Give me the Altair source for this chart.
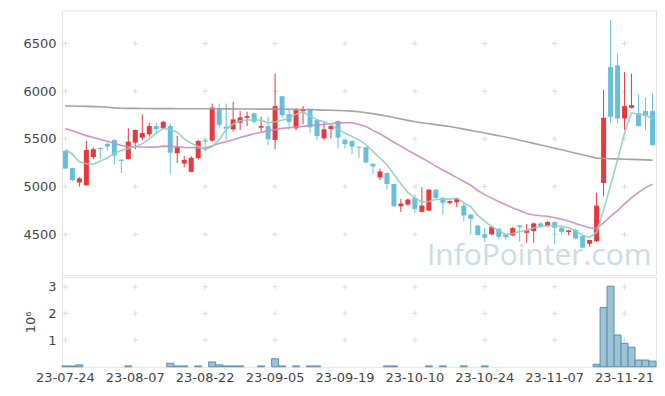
import altair as alt
import pandas as pd

dates = ["23-07-24","23-07-25","23-07-26","23-07-27","23-07-28","23-07-31",
         "23-08-01","23-08-02","23-08-03","23-08-04","23-08-07","23-08-08","23-08-09","23-08-10","23-08-11",
         "23-08-14","23-08-16","23-08-17","23-08-18","23-08-21","23-08-22","23-08-23","23-08-24","23-08-25",
         "23-08-28","23-08-29","23-08-30","23-08-31","23-09-01","23-09-04","23-09-05","23-09-06","23-09-07",
         "23-09-08","23-09-11","23-09-12","23-09-13","23-09-14","23-09-15","23-09-18","23-09-19","23-09-20",
         "23-09-21","23-09-22","23-09-25","23-09-26","23-09-27","23-10-04","23-10-05","23-10-06","23-10-10",
         "23-10-11","23-10-12","23-10-13","23-10-16","23-10-17","23-10-18","23-10-19","23-10-20","23-10-23",
         "23-10-24","23-10-25","23-10-26","23-10-27","23-10-30","23-10-31","23-11-01","23-11-02","23-11-03",
         "23-11-06","23-11-07","23-11-08","23-11-09","23-11-10","23-11-13","23-11-14","23-11-15","23-11-16",
         "23-11-17","23-11-20","23-11-21","23-11-22","23-11-23","23-11-24","23-11-27"]

opens = [5375,5195,5045,5015,5310,5405,5448,5490,5283,5290,5462,5513,5549,5635,5611,
         5635,5351,5243,5156,5299,5484,5482,5809,5628,5601,5670,5722,5768,5618,5635,
         5490,5948,5760,5611,5792,5809,5698,5507,5604,5688,5490,5479,5420,5414,5240,
         5097,5143,5028,4795,4813,4882,4736,4750,4969,4882,4830,4837,4802,4708,4594,
         4500,4500,4559,4500,4490,4594,4517,4535,4615,4587,4629,4570,4525,4545,4483,
         4403,4430,5039,6253,6271,5715,5826,5768,5792,5792]
highs = [5380,5200,5100,5480,5410,5412,5462,5495,5285,5611,5600,5757,5670,5670,5690,
         5664,5534,5323,5320,5490,5507,5872,5872,5872,5889,5792,5785,5775,5733,5733,
         6184,5950,5820,5820,5844,5815,5710,5680,5645,5698,5495,5485,5420,5420,5245,
         5190,5150,5030,4872,4875,4917,4993,4975,4975,4890,4855,4882,4833,4715,4600,
         4570,4590,4565,4505,4580,4600,4611,4625,4630,4640,4635,4575,4548,4560,4490,
         4445,4935,6018,6747,6399,6201,6184,5966,5934,5976]
lows = [5185,5060,5000,5010,5290,5290,5378,5232,5143,5285,5393,5486,5524,5560,5600,
        5135,5247,5205,5150,5285,5368,5470,5611,5490,5576,5594,5635,5660,5576,5437,
        5393,5720,5594,5590,5653,5566,5490,5490,5504,5403,5400,5341,5299,5250,5135,
        5070,4969,4790,4736,4800,4726,4730,4745,4870,4708,4812,4788,4639,4500,4490,
        4420,4490,4450,4445,4480,4420,4413,4413,4570,4580,4400,4490,4490,4455,4355,
        4372,4420,4899,5664,5664,5594,5820,5630,5594,5430]
closes = [5190,5070,5087,5385,5393,5395,5420,5326,5270,5472,5594,5562,5635,5604,5680,
          5357,5414,5281,5302,5479,5472,5830,5649,5607,5705,5726,5740,5680,5635,5497,
          5844,5750,5680,5802,5812,5622,5531,5601,5635,5514,5445,5420,5410,5253,5212,
          5160,5028,4795,4823,4865,4767,4802,4969,4882,4830,4849,4872,4698,4663,4493,
          4465,4580,4476,4472,4566,4576,4545,4615,4587,4629,4570,4525,4542,4458,4361,
          4441,4802,5722,5732,5715,5844,5854,5635,5740,5437]

ma5 = [5390,5340,5260,5240,5236,5270,5300,5350,5380,5400,5420,5450,5500,5560,5610,
       5600,5570,5500,5455,5420,5385,5420,5490,5600,5655,5690,5698,5698,5698,5670,
       5680,5695,5720,5760,5785,5740,5700,5680,5650,5600,5560,5525,5490,5440,5370,
       5300,5230,5130,5030,4940,4880,4840,4845,4865,4870,4870,4880,4830,4790,4700,
       4640,4580,4540,4500,4510,4530,4540,4570,4580,4590,4590,4585,4570,4540,4490,
       4470,4520,4757,5012,5282,5563,5773,5756,5758,5702]
ma20 = [5610,5585,5560,5535,5515,5495,5475,5455,5432,5420,5418,5416,5414,5414,5425,
        5422,5418,5412,5410,5406,5405,5430,5452,5472,5492,5515,5535,5555,5570,5585,
        5598,5611,5618,5625,5632,5640,5646,5652,5660,5668,5670,5670,5652,5630,5590,
        5555,5510,5465,5425,5380,5340,5300,5260,5215,5175,5135,5095,5055,5015,4960,
        4917,4880,4845,4810,4778,4750,4720,4703,4695,4690,4675,4658,4640,4615,4590,
        4570,4562,4620,4690,4750,4820,4885,4940,4990,5025]
ma120 = [5847,5845,5843,5841,5839,5837,5832,5826,5822,5820,5820,5819,5819,5818,5818,
         5818,5817,5817,5817,5816,5816,5816,5815,5815,5815,5814,5814,5814,5813,5813,
         5813,5812,5811,5810,5809,5808,5805,5802,5800,5798,5795,5792,5785,5775,5765,
         5752,5740,5725,5710,5695,5680,5670,5660,5650,5640,5630,5617,5603,5590,5576,
         5562,5548,5534,5520,5504,5487,5470,5454,5437,5420,5403,5386,5369,5351,5334,
         5316,5299,5296,5293,5291,5288,5286,5283,5281,5278]

volume = [30000,30000,70000,0,0,0,0,0,0,30000,0,0,0,0,0,
          130000,30000,30000,0,30000,0,180000,70000,30000,30000,30000,0,0,30000,0,
          300000,30000,0,30000,0,30000,30000,0,0,0,0,0,0,0,0,
          0,30000,30000,0,0,0,0,30000,0,30000,0,0,30000,0,0,
          30000,0,0,0,0,0,0,0,0,0,0,0,0,0,0,
          0,90000,2220000,3020000,1190000,880000,730000,250000,250000,210000]

tick_dates = ["23-07-24","23-08-07","23-08-22","23-09-05","23-09-19",
              "23-10-10","23-10-24","23-11-07","23-11-21"]
price_ticks = [4500, 5000, 5500, 6000, 6500]
vol_ticks = [1000000, 2000000, 3000000]
watermark = ["InfoPointer.com"]

RED = "#e8383d"
BLUE = "#68bfdb"

df = pd.DataFrame(dict(d=dates, o=opens, h=highs, l=lows, c=closes,
                       ma5=ma5, ma20=ma20, ma120=ma120, v=volume))
df["dir"] = ["up" if c >= o else "down" for o, c in zip(opens, closes)]

cross_p = pd.DataFrame([(d, p) for d in tick_dates for p in price_ticks], columns=["d", "p"])
cross_v = pd.DataFrame([(d, p) for d in tick_dates for p in vol_ticks], columns=["d", "p"])
wm = pd.DataFrame({"t": watermark})

W = 595
xs = alt.Scale(domain=dates, paddingInner=0, paddingOuter=0)
ps = alt.Scale(domain=[4076, 6848], zero=False, nice=False)
pax = alt.Axis(values=price_ticks, format="d", grid=False, ticks=False, domain=False, title=None,
               labelPadding=6, minExtent=53)

def X(axis=None):
    return alt.X("d:O", scale=xs, axis=axis, title=None)

def Yp(field):
    return alt.Y(field, scale=ps, axis=pax, title=None)

col = alt.Color("dir:N", scale=alt.Scale(domain=["up", "down"], range=[RED, BLUE]), legend=None)

plus = "M-1,0H1M0,-1V1"

crosses_p = alt.Chart(cross_p).mark_point(shape=plus, size=30, filled=False,
                                          color="#dedede", strokeWidth=1, opacity=1).encode(
    x=X(), y=Yp("p:Q"))

wm_text = alt.Chart(wm).mark_text(font="Open Sans", fontSize=30, color="#c9dce7",
                                  align="center", baseline="middle").encode(
    x=alt.value(478), y=alt.value(246), text="t:N")

wicks = alt.Chart(df).mark_rule(strokeWidth=1).encode(
    x=X(), y=Yp("l:Q"), y2="h:Q", color=col)
bodies = alt.Chart(df).mark_bar(size=5).encode(
    x=X(), y=Yp("o:Q"), y2="c:Q", color=col)

def ma_line(field, color):
    return alt.Chart(df).mark_line(strokeWidth=1.6, color=color, opacity=0.9).encode(
        x=X(), y=Yp(field + ":Q"))

price = alt.layer(
    crosses_p, wm_text, wicks, bodies,
    ma_line("ma120", "#9a9a9a"), ma_line("ma20", "#c98bc4"), ma_line("ma5", "#8fcfbf")
).properties(width=W, height=265)

vs = alt.Scale(domain=[0, 3370000], nice=False)
vax = alt.Axis(values=vol_ticks, grid=False, ticks=False, domain=False, title="10\u2076",
               labelExpr="datum.value / 1000000", labelPadding=6, titlePadding=10)
xax = alt.Axis(values=tick_dates, labelAngle=0, ticks=False, domain=False, grid=False,
               labelPadding=5, title=None)

crosses_v = alt.Chart(cross_v).mark_point(shape=plus, size=30, filled=False,
                                          color="#dedede", strokeWidth=1, opacity=1).encode(
    x=X(xax), y=alt.Y("p:Q", scale=vs, axis=vax))
vbars = alt.Chart(df).transform_filter("datum.v > 0").mark_bar(
    fill="#9cc2d4", stroke="#5b8fab", strokeWidth=1, opacity=1).encode(
    x=X(xax), y=alt.Y("v:Q", scale=vs, axis=vax))

vol = alt.layer(crosses_v, vbars).properties(width=W, height=90)

chart = alt.vconcat(price, vol, spacing=0).properties(
    padding={"left": 0, "top": 1, "right": 0, "bottom": 0}
).configure_view(stroke="#e3e3e3").configure_axis(
    labelFont="DejaVu Sans", labelFontSize=13, labelColor="#444444",
    titleFont="DejaVu Sans", titleFontSize=13, titleFontWeight="normal", titleColor="#444444"
)

chart.save("out.html", embed_options={"renderer": "svg", "actions": False})
